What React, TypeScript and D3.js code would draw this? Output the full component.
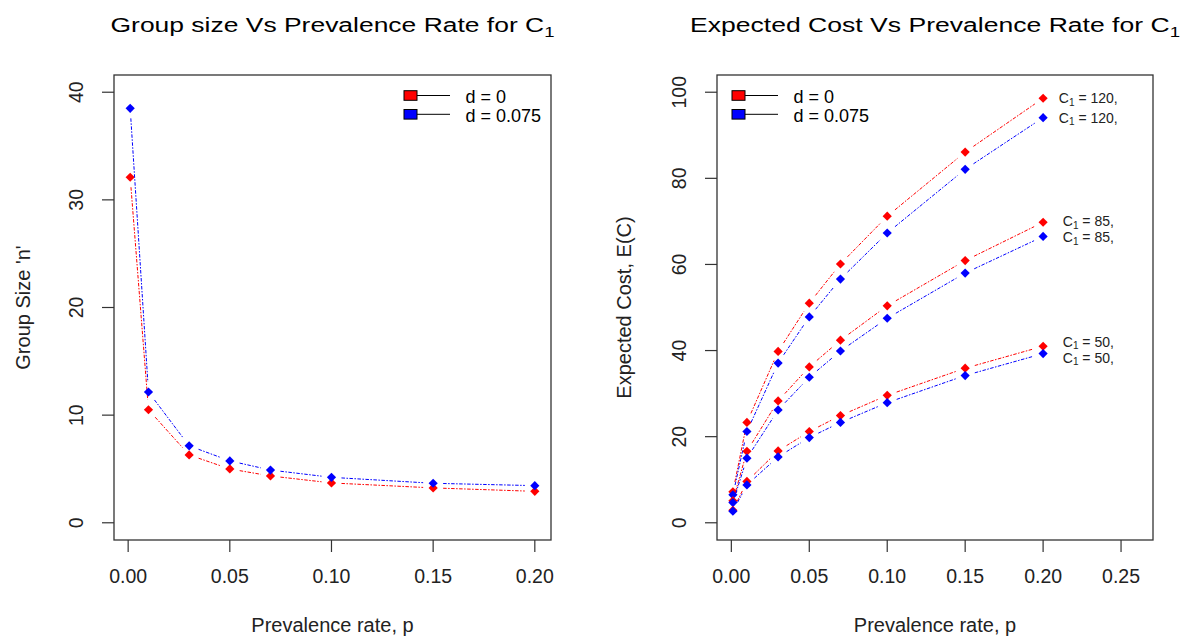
import React from "react";
import * as d3 from "d3";

// ---------- data ----------
const prevalence = [0.001, 0.01, 0.03, 0.05, 0.07, 0.1, 0.15, 0.2];

// Group size n
const groupSizeD0 = [32.1, 10.5, 6.3, 5.0, 4.35, 3.7, 3.24, 2.92];
const groupSizeD075 = [38.5, 12.15, 7.15, 5.75, 4.9, 4.22, 3.67, 3.45];

// Expected cost
const costC120D0 = [7.2, 23.3, 39.8, 51.0, 60.1, 71.2, 86.1, 98.6];
const costC120D075 = [6.5, 21.2, 37.1, 47.8, 56.6, 67.3, 82.1, 94.1];
const costC85D0 = [5.1, 16.6, 28.3, 36.2, 42.4, 50.4, 60.9, 69.8];
const costC85D075 = [4.7, 15.0, 26.2, 33.8, 39.9, 47.5, 58.0, 66.5];
const costC50D0 = [2.9, 9.6, 16.7, 21.2, 24.9, 29.6, 35.9, 41.0];
const costC50D075 = [2.7, 8.8, 15.3, 19.8, 23.3, 27.9, 34.2, 39.3];

const c1Values = ["120", "85", "50"];

const xTicksLeft = [0, 0.05, 0.1, 0.15, 0.2];
const xTicksRight = [0, 0.05, 0.1, 0.15, 0.2, 0.25];
const yTicksLeft = [0, 10, 20, 30, 40];
const yTicksRight = [0, 20, 40, 60, 80, 100];

const legendLabels = ["d = 0", "d = 0.075"];
const RED = "#ff0000";
const BLUE = "#0000ff";
const FONT = "'Liberation Sans', Arial, sans-serif";

const ext = (lo: number, hi: number): [number, number] => {
  const r = hi - lo;
  return [lo - 0.04 * r, hi + 0.04 * r];
};

const diamond = (x: number, y: number, r = 4.6) =>
  `M${x},${y - r}L${x + r},${y}L${x},${y + r}L${x - r},${y}Z`;

function SeriesB({ xs, ys, x, y, color }: any) {
  const pts = xs.map((v: number, i: number) => [x(v), y(ys[i])]);
  const gap = 10;
  const segs: any[] = [];
  for (let i = 0; i < pts.length - 1; i++) {
    const [x1, y1] = pts[i];
    const [x2, y2] = pts[i + 1];
    const L = Math.hypot(x2 - x1, y2 - y1);
    if (L <= 2 * gap) continue;
    const ux = (x2 - x1) / L, uy = (y2 - y1) / L;
    segs.push(
      <line key={i} x1={x1 + ux * gap} y1={y1 + uy * gap} x2={x2 - ux * gap} y2={y2 - uy * gap}
        stroke={color} strokeWidth={1} strokeDasharray="3.5,1.5,1.5,1.5" />
    );
  }
  return (
    <g>
      {segs}
      {pts.map((p: number[], i: number) => (
        <path key={"m" + i} d={diamond(p[0], p[1])} fill={color} />
      ))}
    </g>
  );
}

function Legend({ x0, y0 }: { x0: number; y0: number }) {
  const colors = [RED, BLUE];
  return (
    <g>
      {legendLabels.map((t, i) => {
        const yc = y0 + i * 18.8;
        return (
          <g key={t}>
            <line x1={x0 + 13} x2={x0 + 46} y1={yc} y2={yc} stroke="#000" strokeWidth={1} />
            <rect x={x0} y={yc - 4.8} width={13} height={9.6} fill={colors[i]} stroke="#000" strokeWidth={1} />
            <text x={x0 + 61.5} y={yc + 7.3} fontSize={18} fontFamily={FONT} fill="#000">{t}</text>
          </g>
        );
      })}
    </g>
  );
}

function Panel({ left, right, xDomain, yDomain, xTicks, yTicks, xFmt, title, titleLen, ylab, ylabX, children, legendX }: any) {
  const top = 75, bottom = 540;
  const x = d3.scaleLinear().domain(xDomain).range([left, right]);
  const y = d3.scaleLinear().domain(yDomain).range([bottom, top]);
  const cx = (left + right) / 2;
  const cy = (top + bottom) / 2;
  return (
    <g>
      <rect x={left} y={top} width={right - left} height={bottom - top} fill="none" stroke="#333" strokeWidth={1.3} />
      {xTicks.map((t: number) => (
        <g key={"xt" + t}>
          <line x1={x(t)} x2={x(t)} y1={bottom} y2={bottom + 12} stroke="#333" strokeWidth={1.2} />
          <text x={x(t)} y={583} textAnchor="middle" fontSize={19.5} fontFamily={FONT} fill="#222">{xFmt(t)}</text>
        </g>
      ))}
      {yTicks.map((t: number) => (
        <g key={"yt" + t}>
          <line x1={left} x2={left - 12} y1={y(t)} y2={y(t)} stroke="#333" strokeWidth={1.2} />
          <text transform={`translate(${left - 31},${y(t)}) rotate(-90)`} textAnchor="middle" fontSize={19.5} fontFamily={FONT} fill="#222">{t}</text>
        </g>
      ))}
      <text x={cx} y={632} textAnchor="middle" fontSize={20} fontFamily={FONT} fill="#222">Prevalence rate, p</text>
      <text transform={`translate(${ylabX},${cy}) rotate(-90)`} textAnchor="middle" fontSize={20} fontFamily={FONT} fill="#222">{ylab}</text>
      <text x={cx} y={32} textAnchor="middle" fontSize={20} fontFamily={FONT} fill="#000" textLength={titleLen} lengthAdjust="spacingAndGlyphs">
        {title}
        <tspan fontSize={14} dy={5}>1</tspan>
      </text>
      {children(x, y)}
      <Legend x0={legendX} y0={95.5} />
    </g>
  );
}

export default function App() {
  const fmt = d3.format(".2f");
  const pairs = [
    [costC120D0, costC120D075],
    [costC85D0, costC85D075],
    [costC50D0, costC50D075],
  ];
  return (
    <svg width={1189} height={637} style={{ display: "block", position: "absolute", left: 0, top: 0, background: "#fff" }}>
      <Panel
        left={114} right={551}
        xDomain={ext(0.001, 0.2)} yDomain={ext(0, 40)}
        xTicks={xTicksLeft} yTicks={yTicksLeft} xFmt={fmt}
        title="Group size Vs Prevalence Rate for C" titleLen={444}
        ylab="Group Size 'n'" ylabX={30} legendX={404}
      >
        {(x: any, y: any) => (
          <g>
            <SeriesB xs={prevalence} ys={groupSizeD0} x={x} y={y} color={RED} />
            <SeriesB xs={prevalence} ys={groupSizeD075} x={x} y={y} color={BLUE} />
          </g>
        )}
      </Panel>
      <Panel
        left={717} right={1153}
        xDomain={[-0.0092, 0.2705]} yDomain={ext(0, 100)}
        xTicks={xTicksRight} yTicks={yTicksRight} xFmt={fmt}
        title="Expected Cost Vs Prevalence Rate for C" titleLen={490}
        ylab="Expected Cost, E(C)" ylabX={631} legendX={732}
      >
        {(x: any, y: any) => (
          <g>
            {pairs.map((pr, k) => {
              const ya = y(pr[0][pr[0].length - 1]);
              const yb = y(pr[1][pr[1].length - 1]);
              let la = ya, lb = yb;
              const minSep = 16;
              if (yb - ya < minSep) {
                const mid = (ya + yb) / 2;
                la = mid - minSep / 2;
                lb = mid + minSep / 2;
              }
              const ly = [la, lb];
              return (
                <g key={k}>
                  <SeriesB xs={prevalence} ys={pr[0]} x={x} y={y} color={RED} />
                  <SeriesB xs={prevalence} ys={pr[1]} x={x} y={y} color={BLUE} />
                  {pr.map((s, j) => (
                    <text key={j} x={x(0.229)} y={ly[j] + 5} textAnchor="middle" fontSize={14} fontFamily={FONT} fill="#222">
                      C<tspan fontSize={10} dy={2.5}>1</tspan><tspan dy={-2.5}>{` = ${c1Values[k]},`}</tspan>
                    </text>
                  ))}
                </g>
              );
            })}
          </g>
        )}
      </Panel>
    </svg>
  );
}
